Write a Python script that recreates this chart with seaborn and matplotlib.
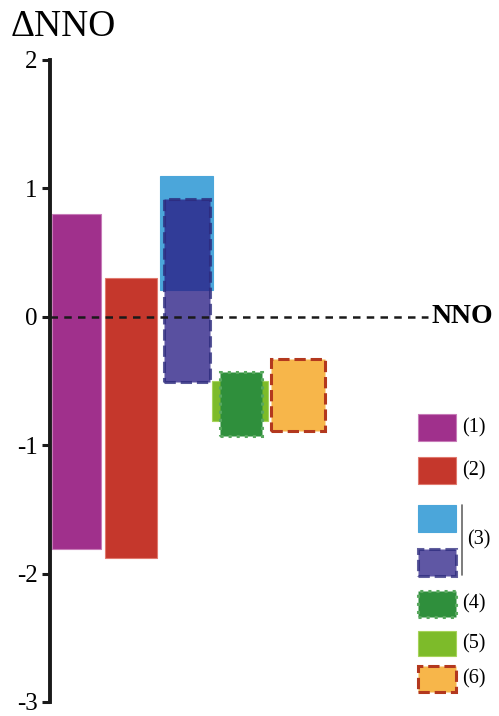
import matplotlib
matplotlib.use("Agg")
import matplotlib.pyplot as plt
import matplotlib.patches as mpatches
import seaborn as sns

# floating bars: (lower, upper) in delta NNO units
labels = ['(1)', '(2)', '(3)', '(3)', '(4)', '(5)', '(6)']
lows = [-1.81, -1.88, 0.21, -0.51, -0.93, -0.81, -0.89]
highs = [0.80, 0.30, 1.10, 0.92, -0.43, -0.50, -0.33]
colors = ['#a0308c', '#c5372c', '#4ba6da', '#2a1f86', '#2f8f3c', '#7dbb2a', '#f7b64a']
edges = ['#c77bb8', '#e0796e', '#4ba6da', '#2c2a7c', '#58a85e', '#a6d35a', '#b3381e']
styles = ['-', '-', '-', '--', ':', '-', '--']
alphas = [1, 1, 1, 0.78, 1, 1, 1]

# layout only: left edge and width of each bar (x axis has no meaning)
lefts = [2, 55, 110, 114, 170, 162, 221]
widths = [49, 52, 53, 46, 42, 56, 54]
order = [0, 1, 2, 3, 5, 4, 6]

sns.set_theme(style='white')
plt.rcParams['font.family'] = ['Liberation Serif', 'DejaVu Serif']
plt.rcParams['axes.unicode_minus'] = False
plt.rcParams['text.color'] = 'black'

W, H = 499, 716
fig = plt.figure(figsize=(W / 100, H / 100), dpi=100)
ax = fig.add_axes([50 / W, 1 - 702 / H, 1 - 50 / W, (702 - 60) / H])

for i in order:
    lw = 2.2 if styles[i] != '-' else 0.8
    ax.bar(lefts[i], highs[i] - lows[i], bottom=lows[i], width=widths[i], align='edge',
           color=colors[i], alpha=alphas[i], edgecolor=edges[i], linewidth=lw,
           linestyle=styles[i], zorder=2)

ax.plot([0, 378], [0, 0], ls=(0, (3, 2.5)), color='#1a1a1a', lw=1.8, zorder=3)
ax.text(381, 0, 'NNO', fontsize=20, fontweight='bold', va='center', ha='left', color='black')

ax.set_xlim(0, 449)
ax.set_ylim(-3, 2)
ax.set_yticks([-3, -2, -1, 0, 1, 2])
ax.set_xticks([])
sns.despine(ax=ax, bottom=True, right=True, top=True)
ax.spines['left'].set_color('#1a1a1a')
ax.spines['left'].set_linewidth(2.8)
ax.tick_params(axis='y', which='both', left=True, length=6, width=2.2, colors='#1a1a1a',
               labelcolor='black', labelsize=18, pad=3)

fig.text(11 / W, 1 - 27 / H, '\u0394NNO', fontsize=27, va='center', ha='left', color='black')

# legend drawn by hand, in figure pixels
def box(x0, y0, x1, y1, **kw):
    fig.patches.append(mpatches.Rectangle((x0 / W, 1 - y1 / H), (x1 - x0) / W, (y1 - y0) / H,
                                          transform=fig.transFigure, figure=fig, **kw))

leg_rows = [(0, 414, 441), (1, 457, 484), (2, 505, 532), (3, 549, 576),
            (4, 591, 617), (5, 631, 656), (6, 666, 692)]
for i, y0, y1 in leg_rows:
    lw = 2.2 if styles[i] != '-' else 0.8
    box(418, y0, 456, y1, facecolor=colors[i], alpha=alphas[i] if i != 3 else 0.75,
        edgecolor=edges[i], linewidth=lw, linestyle=styles[i])
for i, y0, y1 in leg_rows:
    if i in (2, 3):
        continue
    fig.text(462 / W, 1 - (y0 + y1) / 2 / H, labels[i], fontsize=14.5, va='center', ha='left')
fig.lines.append(plt.Line2D([462 / W, 462 / W], [1 - 505 / H, 1 - 575 / H],
                            transform=fig.transFigure, color='#666666', lw=1.2))
fig.text(467 / W, 1 - 540 / H, labels[2], fontsize=14.5, va='center', ha='left')

fig.savefig('out.png', dpi=100)
